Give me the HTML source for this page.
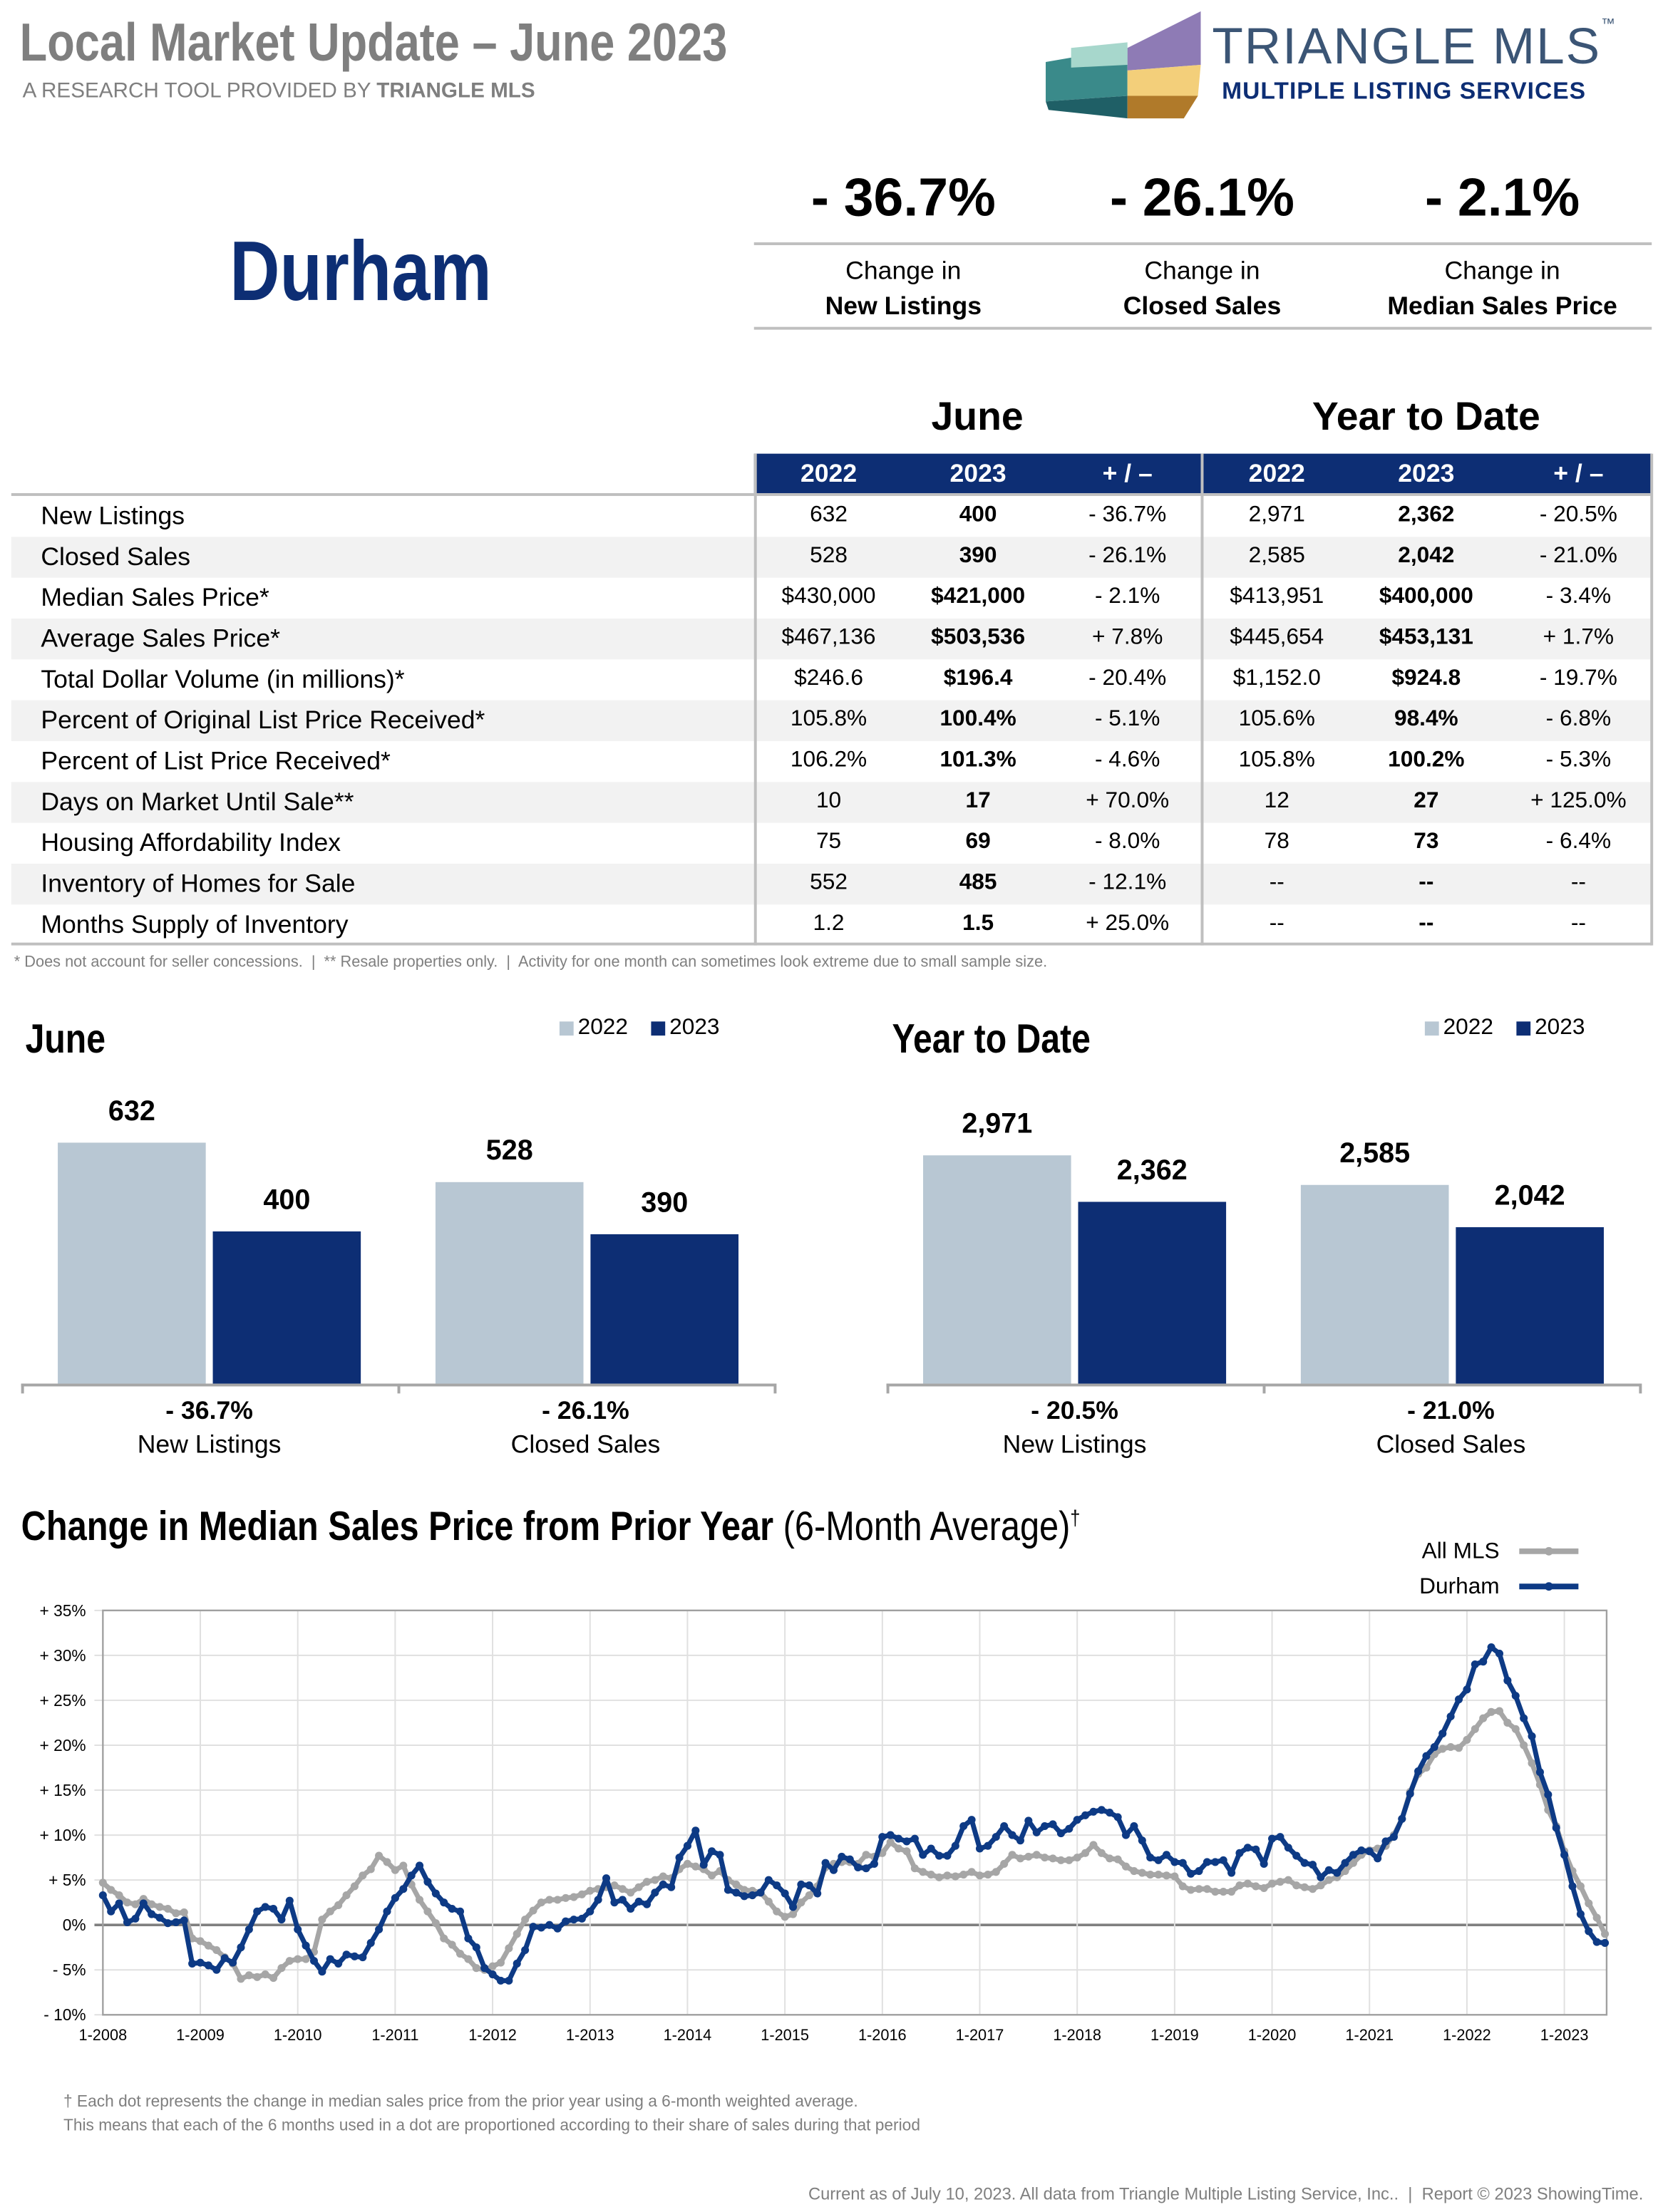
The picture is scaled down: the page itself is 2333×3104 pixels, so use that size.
<!DOCTYPE html>
<html><head><meta charset="utf-8">
<style>
html,body{margin:0;padding:0;background:#fff;}
body{width:2333px;height:3104px;overflow:hidden;font-family:"Liberation Sans",sans-serif;}
#page{position:absolute;left:0;top:0;width:1180px;height:1570px;transform:scale(1.97712);transform-origin:0 0;color:#000;}
.abs{position:absolute;white-space:nowrap;}
.cond{display:inline-block;transform:scaleX(0.8);transform-origin:left center;font-weight:bold;}
.c{text-align:center;}
</style></head><body>
<div id="page">
<div class="abs" style="left:14px;top:10px;font-size:38px;color:#7f7f7f;"><span class="cond" style="transform:scaleX(0.84)">Local Market Update – June 2023</span></div>
<div class="abs" style="left:16px;top:56px;font-size:15px;color:#7f7f7f;">A RESEARCH TOOL PROVIDED BY <b>TRIANGLE MLS</b></div>

<svg class="abs" style="left:740px;top:6px" width="120" height="80">
<polygon points="2,38 60,28 60,62 2,66" fill="#3a8a8a"/><polygon points="2,66 60,62 60,78 4,72" fill="#1f5f66"/>
<polygon points="60,28 112,2 112,40 60,44" fill="#8e7bb5"/><polygon points="60,44 112,40 110,62 60,62" fill="#f3cf7a"/>
<polygon points="60,62 110,62 100,78 60,78" fill="#b07a2a"/><polygon points="20,28 60,24 60,40 20,42" fill="#a7d7cc"/>
</svg>
<div class="abs" style="left:860px;top:12px;font-size:36px;color:#3b5575;letter-spacing:1px">TRIANGLE MLS<span style="font-size:10px;vertical-align:top">™</span></div>
<div class="abs" style="left:867px;top:55px;font-size:17px;font-weight:bold;color:#0d2e74;letter-spacing:0.5px">MULTIPLE LISTING SERVICES</div>

<div class="abs" style="left:163px;top:158px;font-size:60px;color:#0d2e74;"><span class="cond" style="transform:scaleX(0.82)">Durham</span></div>

<div class="abs" style="left:535px;top:172px;width:637px;height:2px;background:#bfbfbf"></div>
<div class="abs" style="left:535px;top:232px;width:637px;height:2px;background:#bfbfbf"></div>
<div class="abs c" style="left:535px;top:120px;width:212px;font-size:38px;font-weight:bold">- 36.7%</div>
<div class="abs c" style="left:747px;top:120px;width:212px;font-size:38px;font-weight:bold">- 26.1%</div>
<div class="abs c" style="left:960px;top:120px;width:212px;font-size:38px;font-weight:bold">- 2.1%</div>
<div class="abs c" style="left:535px;top:180px;width:212px;font-size:18px;line-height:25px">Change in<br><b>New Listings</b></div>
<div class="abs c" style="left:747px;top:180px;width:212px;font-size:18px;line-height:25px">Change in<br><b>Closed Sales</b></div>
<div class="abs c" style="left:960px;top:180px;width:212px;font-size:18px;line-height:25px">Change in<br><b>Median Sales Price</b></div>

<div class="abs c" style="left:535px;top:280px;width:317px;font-size:28px;font-weight:bold">June</div>
<div class="abs c" style="left:852px;top:280px;width:320px;font-size:28px;font-weight:bold">Year to Date</div>
<div id="table"></div>
<div class="abs" style="left:10px;top:677px;font-size:11px;color:#7f7f7f">* Does not account for seller concessions.&nbsp; |&nbsp; ** Resale properties only.&nbsp; |&nbsp; Activity for one month can sometimes look extreme due to small sample size.</div>

<div class="abs" style="left:18px;top:722px;font-size:29px"><span class="cond" style="transform:scaleX(0.84)">June</span></div>
<div class="abs" style="left:633px;top:722px;font-size:29px"><span class="cond" style="transform:scaleX(0.84)">Year to Date</span></div>
<div id="bars"></div>

<div class="abs" style="left:15px;top:1068px;font-size:29px"><span class="cond" style="transform:scaleX(0.85)">Change in Median Sales Price from Prior Year <span style="font-weight:normal">(6-Month Average)<sup style="font-size:15px">†</sup></span></span></div>
<svg id="lc" class="abs" style="left:0;top:1085px" width="1180" height="380"></svg>
<div class="abs" style="left:45px;top:1484px;font-size:11.5px;color:#7f7f7f;line-height:17px">† Each dot represents the change in median sales price from the prior year using a 6-month weighted average.<br>This means that each of the 6 months used in a dot are proportioned according to their share of sales during that period</div>
<div class="abs" style="right:14px;top:1550px;font-size:12px;color:#7f7f7f">Current as of July 10, 2023. All data from Triangle Multiple Listing Service, Inc.. &nbsp;|&nbsp; Report © 2023 ShowingTime.</div>
</div>
<script>
// ---- table data ----
const rowLabels=["New Listings","Closed Sales","Median Sales Price*","Average Sales Price*","Total Dollar Volume (in millions)*","Percent of Original List Price Received*","Percent of List Price Received*","Days on Market Until Sale**","Housing Affordability Index","Inventory of Homes for Sale","Months Supply of Inventory"];
const june2022=["632","528","$430,000","$467,136","$246.6","105.8%","106.2%","10","75","552","1.2"];
const june2023=["400","390","$421,000","$503,536","$196.4","100.4%","101.3%","17","69","485","1.5"];
const juneChg=["- 36.7%","- 26.1%","- 2.1%","+ 7.8%","- 20.4%","- 5.1%","- 4.6%","+ 70.0%","- 8.0%","- 12.1%","+ 25.0%"];
const ytd2022=["2,971","2,585","$413,951","$445,654","$1,152.0","105.6%","105.8%","12","78","--","--"];
const ytd2023=["2,362","2,042","$400,000","$453,131","$924.8","98.4%","100.2%","27","73","--","--"];
const ytdChg=["- 20.5%","- 21.0%","- 3.4%","+ 1.7%","- 19.7%","- 6.8%","- 5.3%","+ 125.0%","- 6.4%","--","--"];
const colHeads=["2022","2023","+ / –","2022","2023","+ / –"];
const colCenters=[588,694,800,906,1012,1120];
(function(){
 const t=document.getElementById('table');let h='';
 h+='<div class="abs" style="left:535px;top:322px;width:637px;height:28px;background:#0d2e74"></div>';
 colHeads.forEach((c,i)=>{h+='<div class="abs c" style="left:'+(colCenters[i]-50)+'px;top:326px;width:100px;font-size:18px;font-weight:bold;color:#fff">'+c+'</div>';});
 h+='<div class="abs" style="left:8px;top:350px;width:1164px;height:2px;background:#bfbfbf"></div>';
 const cols=[june2022,june2023,juneChg,ytd2022,ytd2023,ytdChg];
 rowLabels.forEach((l,r)=>{const y=352+r*29;
  if(r%2==1)h+='<div class="abs" style="left:8px;top:'+y+'px;width:1164px;height:29px;background:#f2f2f2"></div>';
  h+='<div class="abs" style="left:29px;top:'+(y+4)+'px;font-size:18px">'+l+'</div>';
  cols.forEach((col,i)=>{h+='<div class="abs c" style="left:'+(colCenters[i]-60)+'px;top:'+(y+5)+'px;width:120px;font-size:16px;'+((i==1||i==4)?'font-weight:bold':'')+'">'+col[r]+'</div>';});
 });
 h+='<div class="abs" style="left:8px;top:669px;width:1164px;height:2px;background:#bfbfbf"></div>';
 [535,852,1171].forEach(x=>{h+='<div class="abs" style="left:'+x+'px;top:322px;width:1.5px;height:349px;background:#bfbfbf"></div>';});
 t.innerHTML=h;
})();
// ---- bar chart data ----
const barCats=["New Listings","Closed Sales"];
const juneVals2022=[632,528];
const juneVals2023=[400,390];
const juneChanges=["- 36.7%","- 26.1%"];
const ytdVals2022=[2971,2585];
const ytdVals2023=[2362,2042];
const ytdChanges=["- 20.5%","- 21.0%"];
(function(){
 const root=document.getElementById('bars');
 function chart(x0,a,b,chg,maxV,name){
  const base=982;const sc=v=>v/maxV*171;
  let h='<div class="abs" style="left:'+x0+'px;top:'+base+'px;width:535px;height:1.5px;background:#a6a6a6"></div>';
  h+='<div class="abs" style="left:'+(x0+267)+'px;top:'+base+'px;width:1.5px;height:7px;background:#a6a6a6"></div>';
  h+='<div class="abs" style="left:'+x0+'px;top:'+base+'px;width:1.5px;height:7px;background:#a6a6a6"></div><div class="abs" style="left:'+(x0+534)+'px;top:'+base+'px;width:1.5px;height:7px;background:#a6a6a6"></div>';
  h+='<div class="abs" style="left:'+(x0+382)+'px;top:725px;width:10px;height:10px;background:#b8c7d3"></div><div class="abs" style="left:'+(x0+395)+'px;top:721px;font-size:16px">2022</div>';
  h+='<div class="abs" style="left:'+(x0+447)+'px;top:725px;width:10px;height:10px;background:#0d2e74"></div><div class="abs" style="left:'+(x0+460)+'px;top:721px;font-size:16px">2023</div>';
  root.insertAdjacentHTML('beforeend',h);
  barCats.forEach((c,i)=>{
   const gx=x0+26+i*268;
   [[a[i],'#b8c7d3'],[b[i],'#0d2e74']].forEach((p,j)=>{
    const hh=sc(p[0]);const bx=gx+j*110;
    const d=document.createElement('div');d.className='abs';
    
    
    d.style.cssText='left:'+bx+'px;top:'+(base-hh)+'px;width:105px;height:'+hh+'px;background:'+p[1];
    root.appendChild(d);
    const l=document.createElement('div');l.className='abs c';
    
    
    l.style.cssText='left:'+bx+'px;top:'+(base-hh-33)+'px;width:105px;font-size:20px;font-weight:bold';
    l.textContent=p[0].toLocaleString('en-US');root.appendChild(l);
   });
   const t=document.createElement('div');t.className='abs c';
   
   
   t.style.cssText='left:'+(x0+i*267)+'px;top:989px;width:267px;font-size:18px;line-height:24px';
   t.innerHTML='<b>'+chg[i]+'</b><br>'+c;root.appendChild(t);
  });
 }
 chart(15,juneVals2022,juneVals2023,juneChanges,632,'june');
 chart(629,ytdVals2022,ytdVals2023,ytdChanges,3136,'ytd');
})();
// ---- line chart data ----
const yTicks=[35,30,25,20,15,10,5,0,-5,-10];
const xYears=[2008,2009,2010,2011,2012,2013,2014,2015,2016,2017,2018,2019,2020,2021,2022,2023];
const durham=[3.3,1.5,2.4,0.3,0.7,2.4,1.2,0.8,0.2,0.3,0.5,-4.3,
-4.2,-4.5,-5,-3.7,-4.2,-2.5,-0.5,1.5,2.0,1.8,0.6,2.7,
-0.5,-2.3,-4,-5.2,-3.8,-4.3,-3.3,-3.5,-3.6,-2,-0.5,1.5,
3,4,5.5,6.6,4.8,3.5,2.5,1.8,1.5,-1.5,-2.5,-4.8,
-5.5,-6.2,-6.2,-4.3,-2.8,-0.2,-0.3,0,-0.4,0.4,0.6,0.7,
1.5,2.8,5.2,2.5,2.8,1.8,2.6,2.3,3.6,4.5,4.2,7.5,
8.8,10.5,6.7,8.2,7.8,3.9,3.6,3.2,3.3,3.6,5,4.4,
3.5,2,4.5,4.4,3.5,6.9,6.1,7.6,7.3,6.4,6.3,6.8,
9.8,10,9.6,9.3,9.6,7.8,8.5,7.7,7.7,8.8,11,11.7,
8.5,8.8,9.8,11,10,9.4,11.6,10.3,11,11.2,10.2,10.7,
11.7,12.2,12.6,12.8,12.5,12,10,11,9.4,7.5,7.2,7.8,
7,6.9,5.7,6,7,7,7.2,5.8,8,8.6,8.4,6.8,
9.6,9.8,8.6,7.7,6.9,6.7,5.3,6.1,5.8,6.9,7.8,8.3,
8.2,7.4,9.3,9.8,11.8,14.6,17.1,18.8,19.8,21.3,23.2,25.1,
26.2,29,29.3,30.9,30.2,27.2,25.5,23,21,17,14.5,10.8,
7.8,4.3,1.2,-0.7,-1.9,-2.0];
const allMls=[4.7,3.9,3.3,2.5,2.3,2.9,2.3,2.0,1.8,1.3,1.4,-1.5,
-1.8,-2.3,-2.8,-3.6,-4.3,-6,-5.6,-5.8,-5.5,-5.9,-4.8,-4.0,
-3.8,-3.8,-3.0,0.6,1.5,2.2,3.3,4.3,5.5,6.2,7.7,7.0,
6.1,6.6,4.5,2.8,1.5,0.2,-1.5,-2.2,-3.2,-3.8,-4.8,-5.0,
-4.6,-4.2,-2.6,-1.0,0.6,1.6,2.5,2.8,2.8,3.0,3.1,3.4,
3.8,4.0,4.2,4.4,4.0,3.6,4.2,4.8,5.0,5.4,5.2,6.2,
6.8,6.5,6.2,5.5,6.0,5.0,4.5,3.9,3.8,3.6,2.6,1.5,
0.9,1.2,2.5,3.3,4.3,6.4,6.8,7.0,7.0,6.8,7.8,7.6,
8.0,9.2,8.5,8.2,6.3,5.9,5.6,5.3,5.5,5.4,5.6,5.9,
5.5,5.6,5.9,6.8,7.8,7.4,7.6,7.8,7.5,7.4,7.2,7.2,
7.5,8.0,8.9,8.0,7.4,7.3,6.5,6.0,5.8,5.6,5.6,5.5,
5.4,4.3,3.9,4.0,4.0,3.7,3.7,3.7,4.4,4.6,4.3,4.1,
4.6,4.8,5.0,4.4,4.2,4.0,4.4,5.0,5.3,6.0,6.9,7.8,
8.3,8.5,8.8,10.0,11.8,14.8,16.8,17.5,19.0,19.6,19.8,19.7,
20.6,21.8,23.0,23.7,23.8,22.5,21.8,20.0,18.0,15.6,12.8,11.0,
8.2,6.0,4.3,2.4,0.8,-1.0];
(function(){
 const svg=document.getElementById('lc');const NS='http://www.w3.org/2000/svg';
 const oy=1085;const X0=73,X1=1140,YT=1143-oy,YB=1430-oy;
 const xs=i=>X0+i*(1110-X0)/180;
 const ys=v=>YT+(35-v)*(YB-YT)/45;
 function el(t,a,p){const e=document.createElementNS(NS,t);for(const k in a)e.setAttribute(k,a[k]);(p||svg).appendChild(e);return e;}
 yTicks.forEach(v=>{
  const g=el('line',{x1:X0-6,x2:X1,y1:ys(v),y2:ys(v),stroke:v==0?'#808080':'#e0e0e0','stroke-width':v==0?1.8:1});
  
  
  const t=el('text',{x:X0-12,y:ys(v)+4,'text-anchor':'end','font-size':11.5,'font-family':'Liberation Sans, sans-serif'});
  
  
  t.textContent=v>0?'+ '+v+'%':(v<0?'- '+(-v)+'%':'0%');
 });
 xYears.forEach((y,k)=>{const x=xs(k*12);
  if(k>0){const g=el('line',{x1:x,x2:x,y1:YT,y2:YB,stroke:'#e0e0e0','stroke-width':1});
  
  }
  const t=el('text',{x:x,y:YB+18,'text-anchor':'middle','font-size':11,'font-family':'Liberation Sans, sans-serif'});
  
  
  t.textContent='1-'+y;
 });
 el('rect',{x:X0,y:YT,width:X1-X0,height:YB-YT,fill:'none',stroke:'#a0a0a0','stroke-width':1.2});
 function series(data,color,name){
  const pts=data.map((v,i)=>xs(i).toFixed(2)+','+ys(v).toFixed(2)).join(' ');
  const pl=el('polyline',{points:pts,fill:'none',stroke:color,'stroke-width':3.5,'stroke-linejoin':'round'});
  
  
  data.forEach((v,i)=>{const c=el('circle',{cx:xs(i),cy:ys(v),r:2.8,fill:color});
   
   });
 }
 series(allMls,'#a6a6a6','all-mls');
 series(durham,'#0d3a85','durham');
 [['All MLS','#a6a6a6',16],['Durham','#0d3a85',41]].forEach(l=>{
  const t=el('text',{x:1064,y:l[2]+5,'text-anchor':'end','font-size':16,'font-family':'Liberation Sans, sans-serif'});
  
  
  t.textContent=l[0];
  el('line',{x1:1078,x2:1120,y1:l[2],y2:l[2],stroke:l[1],'stroke-width':4});
  el('circle',{cx:1099,cy:l[2],r:3,fill:l[1]});
 });
})();
</script>
</body></html>
